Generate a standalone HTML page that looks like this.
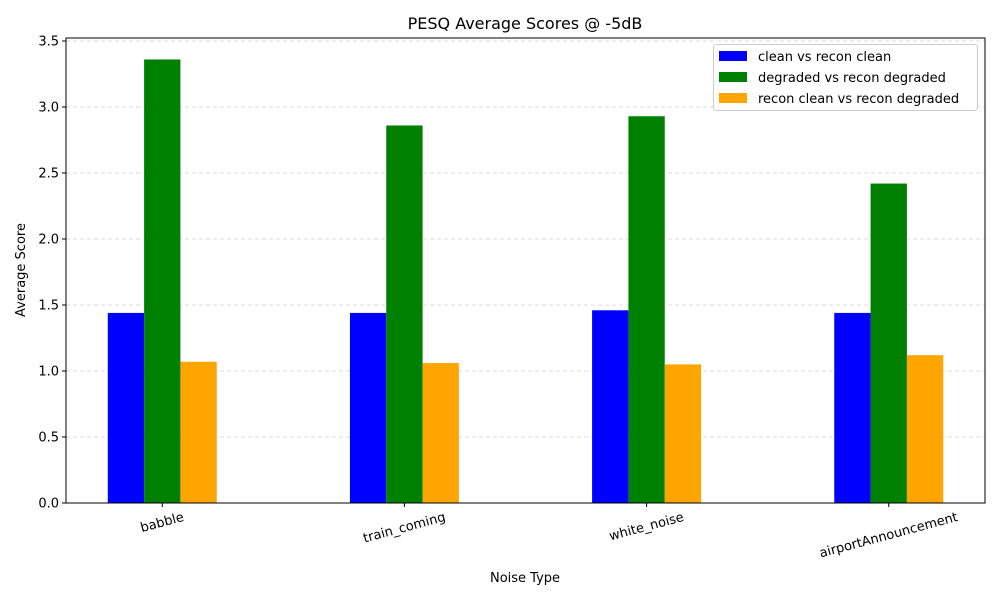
<!DOCTYPE html>
<html><head><meta charset="utf-8"><style>
body{margin:0;background:#fff;}
svg text{font-family:"DejaVu Sans","Liberation Sans",sans-serif;fill:#000;}
</style></head><body>
<svg id="chart" width="1000" height="600" xmlns="http://www.w3.org/2000/svg">
<rect width="1000" height="600" fill="#fff"/>
<g id="grid"></g>
<g id="bars"></g>
<g id="axes"></g>
<text x="525" y="29" font-size="16" text-anchor="middle">PESQ Average Scores @ -5dB</text>
<text x="525" y="582" font-size="13" text-anchor="middle">Noise Type</text>
<text transform="translate(25,270) rotate(-90)" font-size="13" text-anchor="middle">Average Score</text>
<g>
<rect x="713.5" y="44.5" width="264" height="66" rx="3" fill="#fff" fill-opacity="0.8" stroke="#ccc"/>
<rect x="719" y="51" width="28" height="10" fill="#0000ff"/>
<text x="758" y="61" font-size="13">clean vs recon clean</text>
<rect x="719" y="72" width="28" height="10" fill="#008000"/>
<text x="758" y="82" font-size="13">degraded vs recon degraded</text>
<rect x="719" y="93" width="28" height="10" fill="#ffa500"/>
<text x="758" y="103" font-size="13">recon clean vs recon degraded</text>
</g>
</svg>
<script>
const categories = ["babble","train_coming","white_noise","airportAnnouncement"];
const cleanVsRecon = [1.44,1.44,1.46,1.44];
const degradedVsRecon = [3.36,2.86,2.93,2.42];
const reconCleanVsReconDegraded = [1.07,1.06,1.05,1.12];
const yTicks = [0,0.5,1.0,1.5,2.0,2.5,3.0,3.5];

const NS="http://www.w3.org/2000/svg";
const L=66,R=985,T=38,B=503;
const barW=0.15;
const xMin=-0.3975,xMax=categories.length-1+0.3975;
const yMax=3.5227;
const xs=v=>L+(v-xMin)/(xMax-xMin)*(R-L);
const ys=v=>B-v/yMax*(B-T);
function mk(tag,attrs,parent){const e=document.createElementNS(NS,tag);for(const k in attrs)e.setAttribute(k,attrs[k]);parent.appendChild(e);return e;}
const grid=document.getElementById('grid'),bars=document.getElementById('bars'),axes=document.getElementById('axes');
yTicks.forEach(t=>{
  const y=ys(t);
  const g=mk('line',{x1:L,x2:R,y1:y,y2:y,stroke:'#b0b0b0','stroke-opacity':0.6,'stroke-dasharray':'4,3','stroke-width':0.8},grid);
  
  
  const tk=mk('line',{x1:L-4,x2:L,y1:y,y2:y,stroke:'#000'},axes);
  
  
  const tx=mk('text',{x:L-7,y:y+4.5,'font-size':13,'text-anchor':'end'},axes);
  tx.textContent=t.toFixed(1);
  
  
});
const series=[[cleanVsRecon,'#0000ff',-1,'clean'],[degradedVsRecon,'#008000',0,'degraded'],[reconCleanVsReconDegraded,'#ffa500',1,'recon']];
series.forEach(([vals,col,off,nm])=>{
  vals.forEach((v,i)=>{
    const c=i+off*barW;
    const x0=xs(c-barW/2),x1=xs(c+barW/2);
    const r=mk('rect',{x:x0,y:ys(v),width:x1-x0,height:B-ys(v),fill:col},bars);
    
    
  });
});
const ang=15*Math.PI/180;
categories.forEach((c,i)=>{
  const x=xs(i);
  const tk=mk('line',{x1:x,x2:x,y1:B,y2:B+4,stroke:'#000'},axes);
  
  
  const tx=mk('text',{'font-size':13,'text-anchor':'middle','dominant-baseline':'central'},axes);
  tx.textContent=c;
  
  
  const w=tx.getComputedTextLength();
  const h=w*Math.sin(ang)+13*Math.cos(ang);
  tx.setAttribute('transform',`translate(${x},${B+8+h/2}) rotate(-15)`);
});
const fr=mk('rect',{x:L,y:T,width:R-L,height:B-T,fill:'none',stroke:'#000','stroke-width':1},axes);


</script>
</body></html>
